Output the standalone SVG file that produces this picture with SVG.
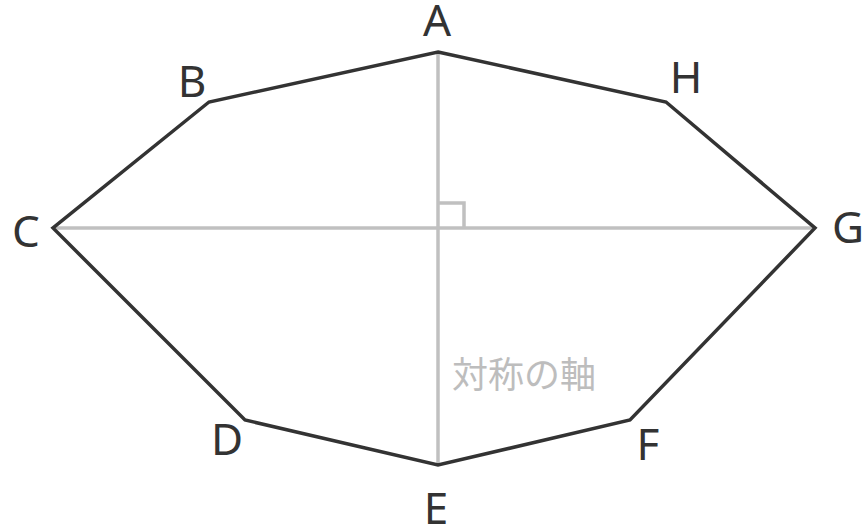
<svg xmlns="http://www.w3.org/2000/svg" width="868" height="529" viewBox="0 0 868 529">
<style>
.axis{stroke:#c0c0c0;stroke-width:3.5;fill:none}
.edge{stroke:#333333;stroke-width:3.5;fill:none;stroke-linejoin:miter}
.lbl{font-family:"Noto Sans","DejaVu Sans",sans-serif;font-size:44px;fill:#333333;text-anchor:middle}
.cap{font-family:"Noto Sans CJK JP",sans-serif;font-size:36px;fill:#bdbdbd}
</style>
<rect width="868" height="529" fill="#ffffff"/>
<g id="axes">
<line class="axis" x1="438" y1="52" x2="438" y2="465"/>
<line class="axis" x1="53" y1="228" x2="815" y2="228"/>
<polyline class="axis" points="438,203 464,203 464,228"/>
</g>
<g id="connectors">
<polygon class="edge" points="438,52 666,102 815,228 630,420 438,465 245,420 53,228 209,102"/>
</g>
<g id="A"><text class="lbl" x="437" y="36">A</text></g>
<g id="B"><text class="lbl" x="192" y="97">B</text></g>
<g id="C"><text class="lbl" x="26" y="247">C</text></g>
<g id="D"><text class="lbl" x="227" y="455">D</text></g>
<g id="E"><text class="lbl" x="436" y="524">E</text></g>
<g id="F"><text class="lbl" x="648" y="460">F</text></g>
<g id="G"><text class="lbl" x="848" y="243">G</text></g>
<g id="H"><text class="lbl" x="686" y="93">H</text></g>
<g id="axis-label"><text class="cap" x="452" y="388">対称の軸</text></g>
</svg>
